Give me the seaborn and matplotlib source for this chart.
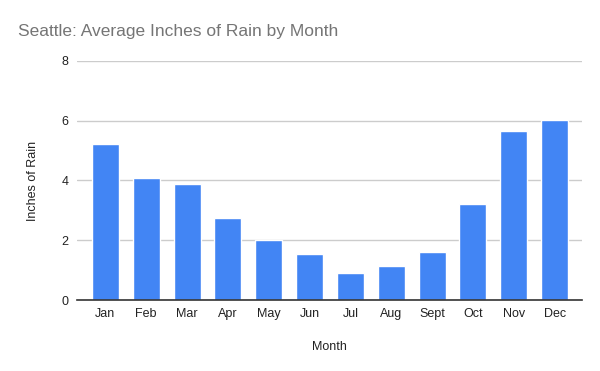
import matplotlib
matplotlib.use("Agg")
import matplotlib.pyplot as plt
import seaborn as sns
import pandas as pd

months = ["Jan", "Feb", "Mar", "Apr", "May", "Jun", "Jul", "Aug", "Sept", "Oct", "Nov", "Dec"]
rain = [5.22, 4.09, 3.89, 2.75, 2.01, 1.54, 0.91, 1.14, 1.61, 3.21, 5.66, 6.03]

df = pd.DataFrame({"Month": months, "Inches of Rain": rain})

sns.set_theme(style="white")
plt.rcParams['font.family'] = ['Liberation Sans', 'DejaVu Sans']

fig = plt.figure(figsize=(6, 3.71), dpi=100)
ax = fig.add_axes([0.128, 0.191, 0.842, 0.645])

sns.barplot(data=df, x="Month", y="Inches of Rain", color="#4285F4",
            saturation=1, width=0.66, ax=ax, zorder=3)

ax.set_ylim(0, 8)
ax.set_yticks([0, 2, 4, 6, 8])
ax.set_xlim(-0.7, 11.67)
ax.yaxis.grid(True, color="#cccccc", linewidth=1, zorder=0)
ax.set_axisbelow(True)
for s in ["top", "right", "left"]:
    ax.spines[s].set_visible(False)
ax.spines["bottom"].set_color("#333333")
ax.spines["bottom"].set_linewidth(1.2)
ax.spines["bottom"].set_zorder(4)
ax.tick_params(axis="both", length=0, labelsize=9, colors="#222222")
ax.tick_params(axis="x", pad=6)
ax.tick_params(axis="y", pad=6)

ax.set_xlabel("Month", fontsize=9, color="#222222", labelpad=15)
ax.set_ylabel("Inches of Rain", fontsize=9, color="#222222", labelpad=16)

fig.text(0.03, 0.915, "Seattle: Average Inches of Rain by Month", fontsize=12.5,
         color="#757575", va="center", ha="left")

fig.savefig("out.png", dpi=100)
